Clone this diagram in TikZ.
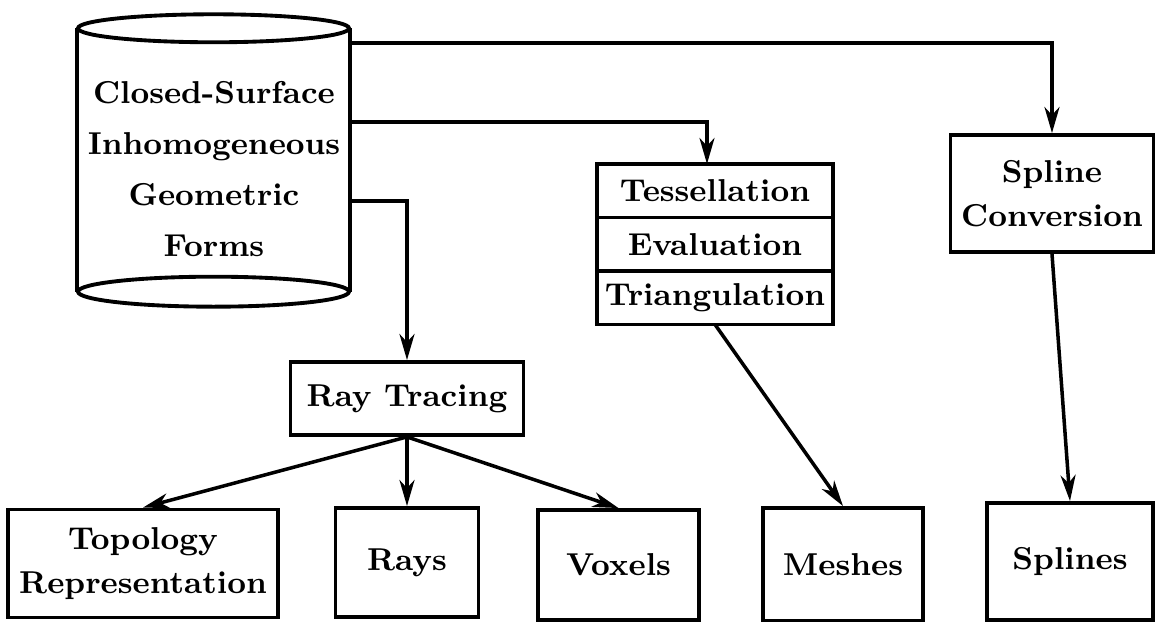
\documentclass[tikz,border=0pt]{standalone}
\usetikzlibrary{arrows.meta,positioning}
\tikzset{
  lbl/.style={font=\fontsize{9}{12.6}\selectfont\bfseries, align=center},
  box/.style={lbl, draw, line width=1.1pt, inner sep=0pt},
  cell/.style={box, outer sep=0pt, minimum width=2.36cm, minimum height=0.535cm},
  arr/.style={line width=1pt, -{Stealth[length=2.6mm,width=1.5mm,inset=0.8mm]}}
}
\begin{document}
\begin{tikzpicture}
\useasboundingbox (0,0) rectangle (11.62,-6.22);
\node[minimum width=2.71cm, minimum height=2.62cm, inner sep=0pt] (db) at (2.135,-1.60) {};
\draw[line width=1.1pt] (db.north west) -- (db.south west) (db.north east) -- (db.south east);
\draw[line width=1.1pt] (db.north) ellipse (1.355 and 0.14);
\draw[line width=1.1pt] (db.south) ellipse (1.355 and 0.15);
\node[lbl, font=\fontsize{9}{14.5}\selectfont\bfseries] (dbtext) at (2.14,-1.69) {Closed-Surface\\Inhomogeneous\\Geometric\\Forms};
\coordinate (o1) at (3.49,-0.43);
\coordinate (o2) at (3.49,-1.22);
\coordinate (o3) at (3.49,-2.01);
\node[box, minimum width=2.03cm, minimum height=1.17cm] (conv) at (10.52,-1.935) {Spline\\Conversion};
\node[cell] (tess) at (7.15,-1.9075) {Tessellation};
\node[cell, below=0pt of tess] (eval) {Evaluation};
\node[cell, below=0pt of eval] (tri) {Triangulation};
\node[box, minimum width=2.33cm, minimum height=0.73cm] (ray) at (4.07,-3.985) {Ray Tracing};
\node[box, minimum width=2.70cm, minimum height=1.08cm] (topo) at (1.43,-5.635) {Topology\\Representation};
\node[box, minimum width=1.43cm, minimum height=1.09cm] (rays) at (4.07,-5.625) {Rays};
\node[box, minimum width=1.61cm, minimum height=1.10cm] (vox) at (6.185,-5.65) {Voxels};
\node[box, minimum width=1.60cm, minimum height=1.13cm] (mesh) at (8.43,-5.645) {Meshes};
\node[box, minimum width=1.66cm, minimum height=1.17cm] (spl) at (10.70,-5.615) {Splines};
\draw[arr] (o1) -| (conv.north);
\draw[arr] (o2) -| ([xshift=-0.8mm]tess.north);
\draw[arr] (o3) -| (ray.north);
\draw[arr] (ray.south) -- (topo.north);
\draw[arr] (ray.south) -- (rays.north);
\draw[arr] (ray.south) -- (vox.north);
\draw[arr] (tri.south) -- (mesh.north);
\draw[arr] (conv.south) -- (spl.north);
\end{tikzpicture}
\end{document}
